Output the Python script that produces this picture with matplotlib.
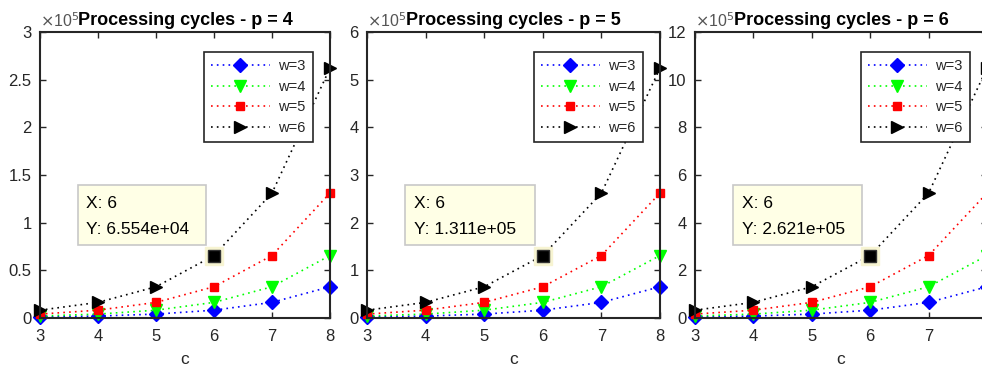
import matplotlib
matplotlib.use("Agg")
import matplotlib.pyplot as plt
from matplotlib.patches import Rectangle
from matplotlib.ticker import FuncFormatter, FixedLocator, MultipleLocator

plt.rcParams['font.family'] = ['Liberation Sans', 'DejaVu Sans']

c_vals = [3, 4, 5, 6, 7, 8]
w_labels = ['w=3', 'w=4', 'w=5', 'w=6']

# p = 4
p4_w3 = [1024, 2048, 4096, 8192, 16384, 32768]
p4_w4 = [2048, 4096, 8192, 16384, 32768, 65536]
p4_w5 = [4096, 8192, 16384, 32768, 65536, 131072]
p4_w6 = [8192, 16384, 32768, 65536, 131072, 262144]
# p = 5
p5_w3 = [2048, 4096, 8192, 16384, 32768, 65536]
p5_w4 = [4096, 8192, 16384, 32768, 65536, 131072]
p5_w5 = [8192, 16384, 32768, 65536, 131072, 262144]
p5_w6 = [16384, 32768, 65536, 131072, 262144, 524288]
# p = 6
p6_w3 = [4096, 8192, 16384, 32768, 65536, 131072]
p6_w4 = [8192, 16384, 32768, 65536, 131072, 262144]
p6_w5 = [16384, 32768, 65536, 131072, 262144, 524288]
p6_w6 = [32768, 65536, 131072, 262144, 524288, 1048576]

p_values = [4, 5, 6]
series = [[p4_w3, p4_w4, p4_w5, p4_w6],
          [p5_w3, p5_w4, p5_w5, p5_w6],
          [p6_w3, p6_w4, p6_w5, p6_w6]]
y_max = [3e5, 6e5, 12e5]
y_step = [0.5e5, 1e5, 2e5]
x_ticklabels = [['3', '4', '5', '6', '7', '8'],
                ['3', '4', '5', '6', '7', '8'],
                ['3', '4', '5', '6', '7', '']]
tip_x = [6, 6, 6]
tip_y = [65536, 131072, 262144]
tip_text = ['6.554e+04', '1.311e+05', '2.621e+05']

colors = ['#0000FF', '#00FF00', '#FF0000', '#000000']
markers = ['D', 'v', 's', '>']
msizes = [7, 8.5, 6, 8.5]

W, H = 982, 372
fig = plt.figure(figsize=(W / 100, H / 100), dpi=100)

lefts = [40, 367, 695]
widths = [290, 293, 292]
top_px, bot_px = 32, 318

txtcol = '#262626'

for i in range(3):
    ax = fig.add_axes([lefts[i] / W, 1 - bot_px / H, widths[i] / W, (bot_px - top_px) / H])
    for j in range(4):
        ax.plot(c_vals, series[i][j], linestyle=(0, (1, 2.5)), color=colors[j], marker=markers[j],
                markersize=msizes[j], markerfacecolor=colors[j], markeredgecolor=colors[j],
                linewidth=1.2, label=w_labels[j], clip_on=False)
    # data tip highlight
    ax.plot([tip_x[i]], [tip_y[i]], marker='s', markersize=13.5, color='#F7F4D2',
            markeredgecolor='#F7F4D2', linestyle='none', zorder=5, clip_on=False)
    ax.plot([tip_x[i]], [tip_y[i]], marker='s', markersize=9, color='black',
            markeredgecolor='#333333', markeredgewidth=1, linestyle='none', zorder=5,
            clip_on=False)
    ax.set_xlim(3, 8)
    ax.set_ylim(0, y_max[i])
    ax.xaxis.set_major_locator(FixedLocator(c_vals))
    ax.set_xticklabels(x_ticklabels[i])
    ax.yaxis.set_major_locator(MultipleLocator(y_step[i]))
    ax.yaxis.set_major_formatter(FuncFormatter(lambda v, pos: '%g' % (v / 1e5)))
    ax.tick_params(direction='in', length=4, width=1, top=True, right=True,
                   labelsize=12, colors=txtcol, pad=6)
    ax.tick_params(axis='x', pad=8)
    for sp in ax.spines.values():
        sp.set_linewidth(1.5)
        sp.set_color('#262626')
    ax.set_xlabel('c', fontsize=12.5, color=txtcol, labelpad=6)
    ax.set_title('Processing cycles - p = %d' % p_values[i], fontsize=13,
                 fontweight='bold', pad=5)
    ax.text(0.0, 1.008, r'$\times$10$^5$', transform=ax.transAxes, fontsize=11.5,
            color='#555555', ha='left', va='bottom')
    leg = ax.legend(loc='upper right', bbox_to_anchor=(1 - 17 / widths[i], 1 - 20 / (bot_px - top_px)),
                    borderaxespad=0, fontsize=10.5, handlelength=4.0, numpoints=1,
                    fancybox=False, framealpha=1, edgecolor='#262626',
                    borderpad=0.5, labelspacing=0.45, handletextpad=0.6)
    leg.get_frame().set_linewidth(1.2)
    for t in leg.get_texts():
        t.set_color(txtcol)
    # data tip box
    ax.add_patch(Rectangle((0.131, 0.255), 0.441, 0.21, transform=ax.transAxes,
                           facecolor='#FFFFE6', edgecolor='#C8C8C8', linewidth=1.2, zorder=6))
    ax.text(0.16, 0.399, 'X: %d' % tip_x[i], transform=ax.transAxes, fontsize=12.5,
            va='center', ha='left', zorder=7)
    ax.text(0.16, 0.308, 'Y: %s' % tip_text[i], transform=ax.transAxes, fontsize=12.5,
            va='center', ha='left', zorder=7)

fig.savefig('out.png', dpi=100)
